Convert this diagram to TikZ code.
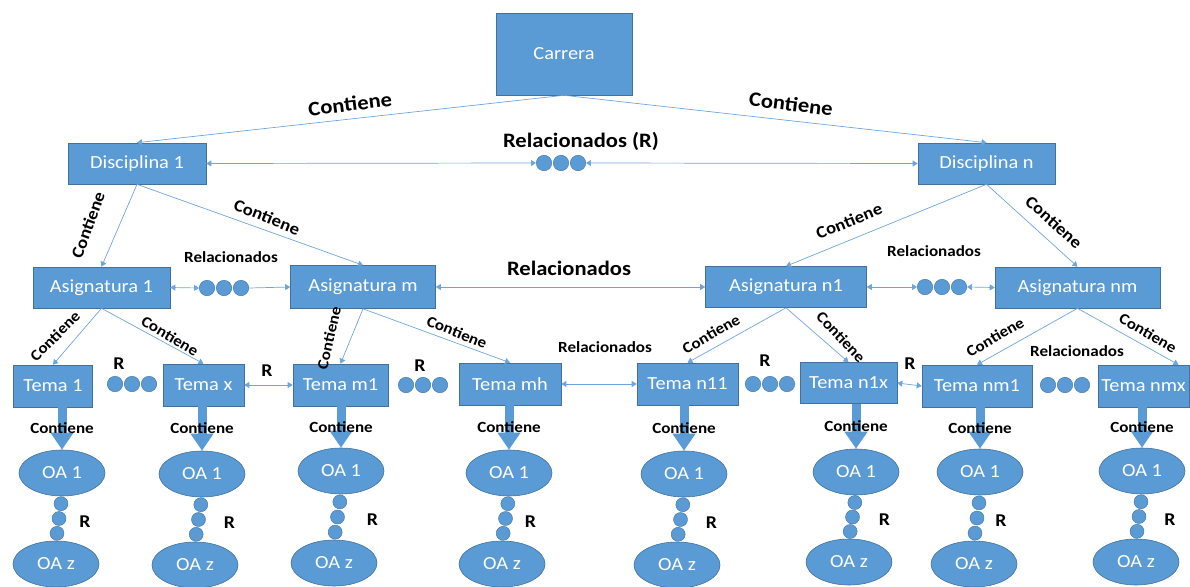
\documentclass[tikz,border=0pt]{standalone}
\usepackage{fontspec}
\setmainfont{Carlito}[FakeStretch=1.1]
\usetikzlibrary{arrows.meta,shapes.geometric,calc}
\definecolor{azul}{RGB}{91,155,213}
\definecolor{borde}{RGB}{65,113,156}
\definecolor{linea}{RGB}{110,165,220}
\tikzset{
  caja/.style={rectangle, fill=azul, draw=borde, line width=0.6pt, text=white, inner sep=0pt, font=\fontsize{18.5}{22}\selectfont},
  oa/.style={ellipse, fill=azul, draw=borde, line width=0.6pt, text=white, inner sep=0pt, minimum width=86pt, minimum height=46pt, font=\fontsize{18.5}{22}\selectfont},
  punto/.style={circle, fill=azul, draw=borde, line width=0.4pt, inner sep=0pt, minimum size=15.5pt},
  puntov/.style={punto, minimum size=14pt},
  con/.style={draw=linea, line width=0.7pt, -{Triangle[width=6pt,length=5pt]}},
  rel/.style={draw=linea, line width=0.7pt, {Triangle[width=6pt,length=5pt]}-{Triangle[width=6pt,length=5pt]}},
  bloque/.style={draw=azul, line width=9pt, -{Triangle[width=22pt,length=17pt]}},
  etq/.style={font=\bfseries\fontsize{15.5}{18}\selectfont, inner sep=1pt},
  etqm/.style={font=\bfseries\fontsize{17}{20}\selectfont, inner sep=1pt},
  etqg/.style={font=\bfseries\fontsize{20.5}{24}\selectfont, inner sep=1pt},
  etqr/.style={font=\bfseries\fontsize{18}{20}\selectfont, inner sep=1pt},
}
\begin{document}
\begin{tikzpicture}[x=1pt,y=-1pt]
\useasboundingbox (0,0) rectangle (1190,586);
\clip (0,0) rectangle (1190,586);
% carrera y disciplinas
\node[caja, minimum width=136pt, minimum height=82pt] (carrera) at (564,54) {Carrera};
\node[caja, minimum width=138pt, minimum height=41pt] (dis1) at (137,163.5) {Disciplina 1};
\node[caja, minimum width=137pt, minimum height=41pt] (disn) at (986.5,163.5) {Disciplina n};
% asignaturas
\node[caja, minimum width=137pt, minimum height=41pt] (a1) at (101.5,287.5) {Asignatura 1};
\node[caja, minimum width=145pt, minimum height=43pt] (am) at (363,287) {Asignatura m};
\node[caja, minimum width=161pt, minimum height=41pt] (an1) at (786,287) {Asignatura n1};
\node[caja, minimum width=165pt, minimum height=41pt] (anm) at (1077.5,287.5) {Asignatura nm};
% temas
\node[caja, minimum width=79pt, minimum height=42pt] (t1) at (53,386) {Tema 1};
\node[caja, minimum width=81pt, minimum height=42pt] (tx) at (203.5,385) {Tema x};
\node[caja, minimum width=95pt, minimum height=42pt] (tm1) at (340.5,385) {Tema m1};
\node[caja, minimum width=102pt, minimum height=42pt] (tmh) at (510,384) {Tema mh};
\node[caja, minimum width=101pt, minimum height=42pt] (tn11) at (687.5,384) {Tema n11};
\node[caja, minimum width=97pt, minimum height=41pt] (tn1x) at (848.5,383) {Tema n1x};
\node[caja, minimum width=110pt, minimum height=42pt] (tnm1) at (977,386) {Tema nm1};
\node[caja, minimum width=91pt, minimum height=42pt] (tnmx) at (1143.5,386) {Tema nmx};
% puntos horizontales
\foreach \n/\x/\y in {ra/544/163, aa/207/288, ab/925/287, ta/115/384, tb/406/385, tc/753/384, td/1048/385}
  \foreach \k in {0,1,2}
    \node[punto] (\n\k) at (\x+17*\k,\y) {};
% conectores
\draw[con] (carrera.south) -- (dis1.north);
\draw[con] (carrera.south) -- (disn.north);
\draw[rel] (dis1.east) -- (ra0.west);
\draw[rel] (ra2.east) -- (disn.west);
\draw[con] (dis1.south) -- (a1.north);
\draw[con] (dis1.south) -- (am.north);
\draw[con] (disn.south) -- (an1.north);
\draw[con] (disn.south) -- (anm.north);
\draw[rel] (a1.east) -- (aa0.west);
\draw[con] (aa2.east) -- (am.west);
\draw[rel] (am.east) -- (an1.west);
\draw[rel] (an1.east) -- (ab0.west);
\draw[rel] (ab2.east) -- (anm.west);
\draw[con] (a1.south) -- (t1.north);
\draw[con] (a1.south) -- (tx.north);
\draw[con] (am.south) -- (tm1.north);
\draw[con] (am.south) -- (tmh.north);
\draw[con] (an1.south) -- (tn11.north);
\draw[con] (an1.south) -- (tn1x.north);
\draw[con] (anm.south) -- (tnm1.north);
\draw[con] (anm.south) -- ([xshift=35pt]tnmx.north);
\draw[rel] (tx.east) -- (tm1.west);
\draw[rel] (tmh.east) -- (tn11.west);
\draw[rel] (tn1x.east) -- (tnm1.west);
% objetos de aprendizaje
\foreach \c/\t/\xa/\ya/\xz/\yz/\dr in {1/t1/62/473/56/564/26, 2/tx/202/474/195/565/31,
    3/tm1/341/471/334/563/35, 4/tmh/509/473/502/564/25, 5/tn11/684/474/677/565/31,
    6/tn1x/856/472/849/562/32, 7/tnm1/980/472/974/564/24, 8/tnmx/1142/471/1136/562/31}{
  \node[oa] (oa\c) at (\xa,\ya) {OA 1};
  \node[oa] (oz\c) at (\xz,\yz) {OA z};
  \node[puntov] (va\c) at ($(oa\c.south)!0.1667!(oz\c.north)$) {};
  \node[puntov] (vb\c) at ($(oa\c.south)!0.5!(oz\c.north)$) {};
  \node[puntov] (vc\c) at ($(oa\c.south)!0.8333!(oz\c.north)$) {};
  \node[etqr] (rr\c) at ($(vb\c)+(\dr,3)$) {R};
  \draw[bloque] (\t.south -| oa\c.north) -- (oa\c.north) node[midway, etq] (k\c) {Contiene};
}
% etiquetas
\node[etqg, rotate=7] (c1) at (350,104) {Contiene};
\node[etqg, rotate=-7] (c2) at (791,104) {Contiene};
\node[etqg] (r1) at (581,141) {Relacionados (R)};
\node[etqg] (r2) at (569,268) {Relacionados};
\node[etqm, rotate=70] (c3) at (88,225) {Contiene};
\node[etqm, rotate=-22] (c4) at (267,217) {Contiene};
\node[etqm, rotate=22] (c5) at (849,221) {Contiene};
\node[etqm, rotate=-42] (c6) at (1054,222) {Contiene};
\node[etq, rotate=45] (c7) at (55,336) {Contiene};
\node[etq, rotate=-31] (c8) at (170,336) {Contiene};
\node[etq, rotate=77] (c9) at (329,338) {Contiene};
\node[etq, rotate=-22] (c10) at (457,332) {Contiene};
\node[etq, rotate=30] (c11) at (711,334) {Contiene};
\node[etq, rotate=-47] (c12) at (841,337) {Contiene};
\node[etq, rotate=30] (c13) at (995,337) {Contiene};
\node[etq, rotate=-30] (c14) at (1148,333) {Contiene};
\node[etq] (r3) at (231,257) {Relacionados};
\node[etq] (r4) at (934,251) {Relacionados};
\node[etq] (r5) at (605,347) {Relacionados};
\node[etq] (r6) at (1077,351) {Relacionados};
\node[etqr] (rt1) at (119,364) {R};
\node[etqr] (rt2) at (267,371) {R};
\node[etqr] (rt3) at (420,366) {R};
\node[etqr] (rt4) at (765,361) {R};
\node[etqr] (rt5) at (910,364) {R};
\end{tikzpicture}
\end{document}
